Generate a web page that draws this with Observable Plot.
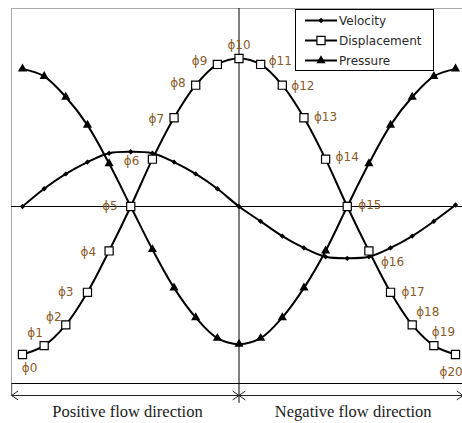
<!DOCTYPE html>
<html><head><meta charset="utf-8">
<script src="https://cdn.jsdelivr.net/npm/d3@7"></script>
<script src="https://cdn.jsdelivr.net/npm/@observablehq/plot@0.6"></script>
<style>body{margin:0;background:#fff;overflow:hidden} #chart svg{overflow:hidden;display:block}</style>
</head><body><div id="chart"></div>
<script>
// ---- data ----
const phase = [0,1,2,3,4,5,6,7,8,9,10,11,12,13,14,15,16,17,18,19,20];
const phaseLabels = ["\u03D50","\u03D51","\u03D52","\u03D53","\u03D54","\u03D55","\u03D56","\u03D57","\u03D58","\u03D59","\u03D510",
  "\u03D511","\u03D512","\u03D513","\u03D514","\u03D515","\u03D516","\u03D517","\u03D518","\u03D519","\u03D520"];
const velocity = [0, 0.12, 0.22, 0.30, 0.36, 0.37, 0.36, 0.30, 0.22, 0.12, 0, -0.10, -0.20, -0.28, -0.34, -0.35, -0.34, -0.28, -0.20, -0.10, 0.01];
const displacement = [-1.0, -0.94, -0.80, -0.58, -0.30, 0, 0.32, 0.60, 0.82, 0.96, 1.0, 0.96, 0.82, 0.60, 0.32, 0, -0.30, -0.58, -0.80, -0.94, -1.0];
const pressure = [0.93, 0.88, 0.74, 0.55, 0.29, 0, -0.29, -0.55, -0.75, -0.89, -0.93, -0.89, -0.75, -0.55, -0.30, 0, 0.29, 0.55, 0.74, 0.88, 0.93];
const seriesNames = ["Velocity", "Displacement", "Pressure"];
const directions = ["Positive flow direction", "Negative flow direction"];

// ---- layout / style tables ----
const X_LEFT = -0.5, X_MID = 10, X_RIGHT = 20.35;
const Y_MIN = -1.196, Y_MAX = 1.338, Y_ARROW = -1.277, Y_TEXT = -1.39, Y_VLINE = -1.33;
const labelOffset = [
  ["middle", 7, 14], ["middle", -9, -12], ["middle", -12, -8], ["end", -14, 0], ["end", -13, 1],
  ["end", -13, 0], ["end", -13, 2], ["end", -10, 1], ["end", -10, -2], ["end", -10, -3],
  ["middle", 0, -13],
  ["start", 8, -3], ["start", 9, 1], ["start", 10, -1], ["start", 10, -2], ["start", 11, -1],
  ["start", 12, 11], ["start", 11, 0], ["start", 4, -13], ["start", -2, -13], ["start", -16, 18]
];
const labelColor = "#8a5a28";

const rows = phase.map(i => ({i, v: velocity[i], d: displacement[i], p: pressure[i], label: phaseLabels[i]}));

const segs = [
  {a: X_LEFT, b: X_MID, text: directions[0]},
  {a: X_MID, b: X_RIGHT, text: directions[1]}
];
const arrowData = segs.flatMap(s => {
  const m = (s.a + s.b) / 2;
  return [{x1: m, x2: s.a}, {x1: m, x2: s.b}];
});

const marks = [
  Plot.frame({stroke: "#a8a8a8", insetLeft: -11, insetRight: -20}),
  Plot.ruleY([0], {stroke: "#000", strokeWidth: 1, insetLeft: -11, insetRight: -20}),
  Plot.ruleX([X_MID], {y1: Y_MAX, y2: Y_VLINE, stroke: "#000", strokeWidth: 1}),
  Plot.ruleY([Y_MIN], {stroke: "#000", strokeWidth: 1.2, insetLeft: -11, insetRight: -20}),
  Plot.ruleX([X_LEFT], {y1: Y_MIN, y2: Y_ARROW, stroke: "#555", strokeWidth: 1}),
  Plot.arrow(arrowData, {x1: "x1", x2: "x2", y1: () => Y_ARROW, y2: () => Y_ARROW, stroke: "#222", strokeWidth: 1, headLength: 11, headAngle: 70}),
  Plot.text(segs, {x: s => (s.a + s.b) / 2 + 0.1, y: () => Y_TEXT, text: "text", fontFamily: "Liberation Serif", fontSize: 16.5, fill: "#1a1a1a"}),
  Plot.line(rows, {x: "i", y: "v", stroke: "#000", strokeWidth: 2, curve: "catmull-rom"}),
  Plot.line(rows, {x: "i", y: "p", stroke: "#000", strokeWidth: 2, curve: "catmull-rom"}),
  Plot.line(rows, {x: "i", y: "d", stroke: "#000", strokeWidth: 2, curve: "catmull-rom"}),
  Plot.dot(rows, {x: "i", y: "v", symbol: "diamond2", r: 2.4, fill: "#000", stroke: "none"}),
  Plot.dot(rows, {x: "i", y: "p", symbol: "triangle", r: 3.4, fill: "#000", stroke: "none"}),
  Plot.dot(rows, {x: "i", y: "d", symbol: "square", r: 4.6, fill: "#fff", stroke: "#000", strokeWidth: 1.2}),
  ...rows.map(r => Plot.text([r], {
    x: "i", y: "d", text: "label",
    textAnchor: labelOffset[r.i][0], dx: labelOffset[r.i][1], dy: labelOffset[r.i][2],
    fontFamily: "DejaVu Sans", fontSize: 12, fill: labelColor
  }))
];

const chart = Plot.plot({
  width: 462, height: 423,
  marginLeft: 22, marginRight: 7, marginTop: 8, marginBottom: 40,
  x: {domain: [0, 20], axis: null},
  y: {domain: [Y_MIN, Y_MAX], axis: null},
  style: {background: "#fff"},
  marks
});

// legend
const svg = d3.select(chart);
const lg = svg.append("g").attr("transform", "translate(295,9)");
lg.append("rect").attr("x", 0.5).attr("y", 0.5).attr("width", 138).attr("height", 61)
  .attr("fill", "#fff").attr("stroke", "#000").attr("stroke-width", 1);
const legendSymbols = [
  {sym: d3.symbolDiamond2, r: 2.4, fill: "#000", stroke: "none"},
  {sym: d3.symbolSquare, r: 4.6, fill: "#fff", stroke: "#000"},
  {sym: d3.symbolTriangle, r: 3.4, fill: "#000", stroke: "none"}
];
seriesNames.forEach((name, k) => {
  const y = 11.5 + k * 20;
  lg.append("line").attr("x1", 10).attr("x2", 42).attr("y1", y).attr("y2", y).attr("stroke", "#000").attr("stroke-width", 2);
  const s = legendSymbols[k];
  lg.append("path").attr("transform", `translate(26,${y})`)
    .attr("d", d3.symbol(s.sym, Math.PI * s.r * s.r)())
    .attr("fill", s.fill).attr("stroke", s.stroke).attr("stroke-width", 1.2);
  lg.append("text").attr("x", 44).attr("y", y).attr("dy", "0.35em").attr("text-anchor", "start")
    .attr("font-family", "DejaVu Sans").attr("font-size", 12).attr("fill", "#2a2a2a").text(name);
});

document.getElementById("chart").appendChild(chart);
</script>
</body></html>
